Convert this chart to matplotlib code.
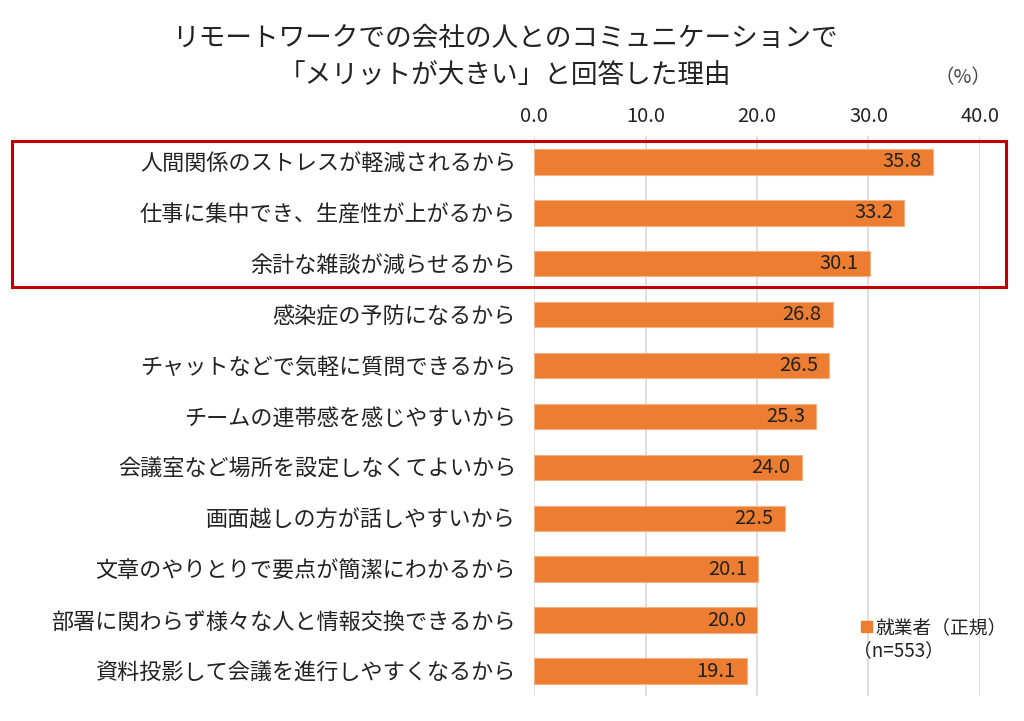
import matplotlib.pyplot as plt
import matplotlib.transforms as mtransforms
from matplotlib.patches import Rectangle, Patch

plt.rcParams['font.family'] = ['Noto Sans CJK JP', 'DejaVu Sans']

reasons = [
    "人間関係のストレスが軽減されるから",
    "仕事に集中でき、生産性が上がるから",
    "余計な雑談が減らせるから",
    "感染症の予防になるから",
    "チャットなどで気軽に質問できるから",
    "チームの連帯感を感じやすいから",
    "会議室など場所を設定しなくてよいから",
    "画面越しの方が話しやすいから",
    "文章のやりとりで要点が簡潔にわかるから",
    "部署に関わらず様々な人と情報交換できるから",
    "資料投影して会議を進行しやすくなるから",
]
values = [35.8, 33.2, 30.1, 26.8, 26.5, 25.3, 24.0, 22.5, 20.1, 20.0, 19.1]
xticks = [0, 10, 20, 30, 40]
bar_color = "#ED7D31"

fig = plt.figure(figsize=(10.24, 7.21), dpi=100)
ax = fig.add_axes([0.5215, 0.034, 0.4355, 0.7767])

ypos = list(range(len(reasons)))
ax.barh(ypos, values, height=0.5, color=bar_color, edgecolor="#F4B183", linewidth=0.8, zorder=3)
for y, v in zip(ypos, values):
    ax.text(v - 1.0, y, f"{v:.1f}", ha="right", va="center", fontsize=14.5, color="#222222", zorder=4)

ax.set_xlim(0, 40)
ax.set_ylim(len(reasons) - 0.5, -0.5)
ax.set_xticks(xticks)
ax.set_xticklabels([f"{t:.1f}" for t in xticks], fontsize=14.5, color="#222222")
ax.xaxis.tick_top()
ax.tick_params(axis="x", length=0, pad=7)
ax.set_yticks(ypos)
ax.set_yticklabels(reasons, fontsize=15.9, color="#222222")
ax.tick_params(axis="y", length=0, pad=13)
ax.grid(axis="x", color="#D9D9D9", linewidth=1.2, zorder=0)
for s in ax.spines.values():
    s.set_visible(False)

# red highlight box round the top three reasons
trans = mtransforms.blended_transform_factory(fig.transFigure, ax.transData)
box = Rectangle((0.012, -0.42), 0.97, 2.87, transform=trans, fill=False,
                edgecolor="#C00000", linewidth=2.2, clip_on=False, zorder=5)
fig.add_artist(box)

fig.text(0.493, 0.946, "リモートワークでの会社の人とのコミュニケーションで",
         ha="center", va="center", fontsize=19.2, color="#222222")
fig.text(0.493, 0.895, "「メリットが大きい」と回答した理由",
         ha="center", va="center", fontsize=19.2, color="#222222")
fig.text(0.940, 0.893, "（%）", ha="center", va="center", fontsize=14, color="#444444")

leg = ax.legend(handles=[Patch(color=bar_color)], labels=["就業者（正規）"],
                loc="upper left", bbox_to_anchor=(0.717, 0.155), frameon=False,
                handlelength=0.55, handleheight=0.55, handletextpad=0.2,
                fontsize=13.5, borderaxespad=0)
for t in leg.get_texts():
    t.set_color("#222222")
fig.text(0.833, 0.098, "（n=553）", ha="left", va="center", fontsize=13.5, color="#222222")

fig.savefig("out.png", dpi=100, facecolor="white")
